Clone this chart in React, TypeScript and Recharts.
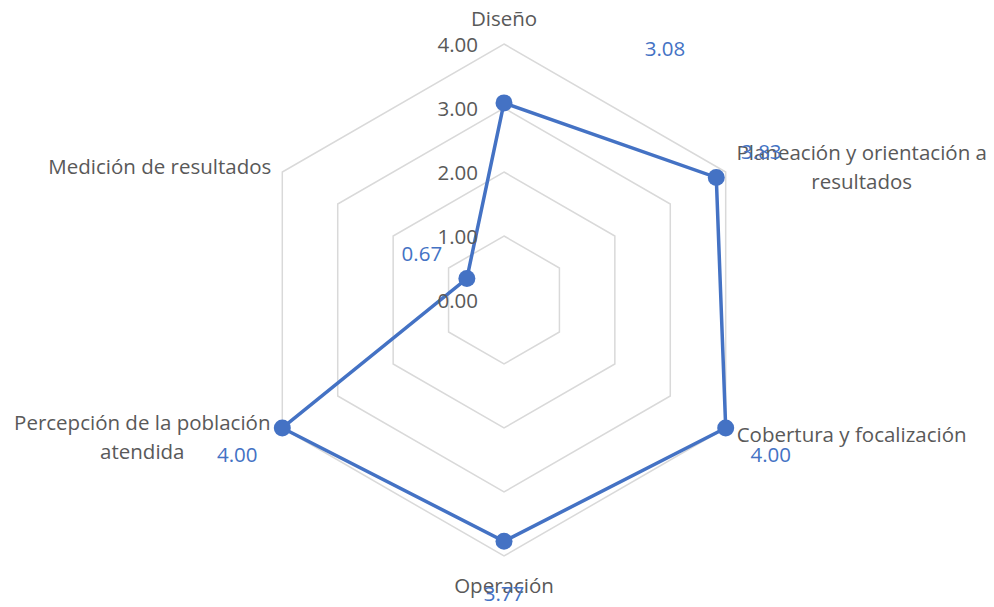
import { RadarChart, Radar, PolarGrid, PolarAngleAxis, PolarRadiusAxis, LabelList } from "recharts";

const categories = [
  "Diseño",
  "Planeación y orientación a resultados",
  "Cobertura y focalización",
  "Operación",
  "Percepción de la población atendida",
  "Medición de resultados",
];
const scores = [3.08, 3.83, 4.0, 3.77, 4.0, 0.67];
const radiusTicks = [0, 1, 2, 3, 4];

// how the long category names break onto lines
const wrapped: Record<string, string[]> = {
  "Planeación y orientación a resultados": ["Planeación y orientación a", "resultados"],
  "Percepción de la población atendida": ["Percepción de la población", "atendida"],
};

const W = 994;
const H = 607;
const CX = 504;
const CY = 300;
const R = 256;
const BLUE = "#4472C4";
const GRAY = "#595959";
const FONT = "'Open Sans', sans-serif";
const FS = 20.5;

const data = categories.map((name, i) => ({ name, value: scores[i] }));

// per-category placement of the axis label relative to its hexagon vertex
const tickPlacement = [
  { dx: 0, dy: -26, anchor: "middle" },
  { dx: 136, dy: -20, anchor: "middle" },
  { dx: 11, dy: 6, anchor: "start" },
  { dx: 0, dy: 29, anchor: "middle" },
  { dx: -140, dy: -6, anchor: "middle" },
  { dx: -11, dy: -6, anchor: "end" },
];

function AngleTick(props: any) {
  const { payload, index } = props;
  const angle = (payload.coordinate * Math.PI) / 180;
  const vx = CX + R * Math.cos(angle);
  const vy = CY - R * Math.sin(angle);
  const p = tickPlacement[index] || { dx: 0, dy: 0, anchor: "middle" };
  const lines = wrapped[payload.value] || [payload.value];
  return (
    <text
      x={vx + p.dx}
      y={vy + p.dy}
      textAnchor={p.anchor}
      dominantBaseline="central"
      fill={GRAY}
      fontSize={FS}
      fontFamily={FONT}
    >
      {lines.map((l, i) => (
        <tspan key={i} x={vx + p.dx} dy={i === 0 ? 0 : 29}>
          {l}
        </tspan>
      ))}
    </text>
  );
}

function RadiusTick(props: any) {
  const { x, y, payload } = props;
  return (
    <text
      x={x - 26}
      y={y}
      textAnchor="end"
      dominantBaseline="central"
      fill={GRAY}
      fontSize={FS}
      fontFamily={FONT}
    >
      {Number(payload.value).toFixed(2)}
    </text>
  );
}

function ValueLabel(props: any) {
  const { x, y, value, index } = props;
  const ang = Math.atan2(y - CY, x - CX);
  let lx = x + 52 * Math.cos(ang);
  let ly = y + 52 * Math.sin(ang);
  if (index === 0) {
    // Excel pushed this one off to the side
    lx = x + 161;
    ly = y - 55;
  }
  return (
    <text
      x={lx}
      y={ly}
      textAnchor="middle"
      dominantBaseline="central"
      fill={BLUE}
      fontSize={FS}
      fontFamily={FONT}
    >
      {Number(value).toFixed(2)}
    </text>
  );
}

export default function App() {
  return (
    <div style={{ position: "absolute", left: 0, top: 0, width: W, height: H, background: "#fff" }}>
      <RadarChart
        width={W}
        height={H}
        data={data}
        cx={CX}
        cy={CY}
        outerRadius={R}
        margin={{ top: 0, right: 0, bottom: 0, left: 0 }}
      >
        <PolarGrid gridType="polygon" radialLines={false} stroke="#d9d9d9" strokeWidth={1.5} />
        <PolarAngleAxis dataKey="name" tick={<AngleTick />} tickLine={false} axisLine={false} />
        <PolarRadiusAxis
          angle={90}
          domain={[0, 4]}
          ticks={radiusTicks}
          tickCount={5}
          axisLine={false}
          tick={<RadiusTick />}
        />
        <Radar
          dataKey="value"
          stroke={BLUE}
          strokeWidth={3.5}
          fill="none"
          fillOpacity={0}
          dot={{ r: 8.5, fill: BLUE, stroke: BLUE, strokeWidth: 0, fillOpacity: 1 }}
          isAnimationActive={false}
        >
          <LabelList dataKey="value" content={<ValueLabel />} />
        </Radar>
      </RadarChart>
    </div>
  );
}
